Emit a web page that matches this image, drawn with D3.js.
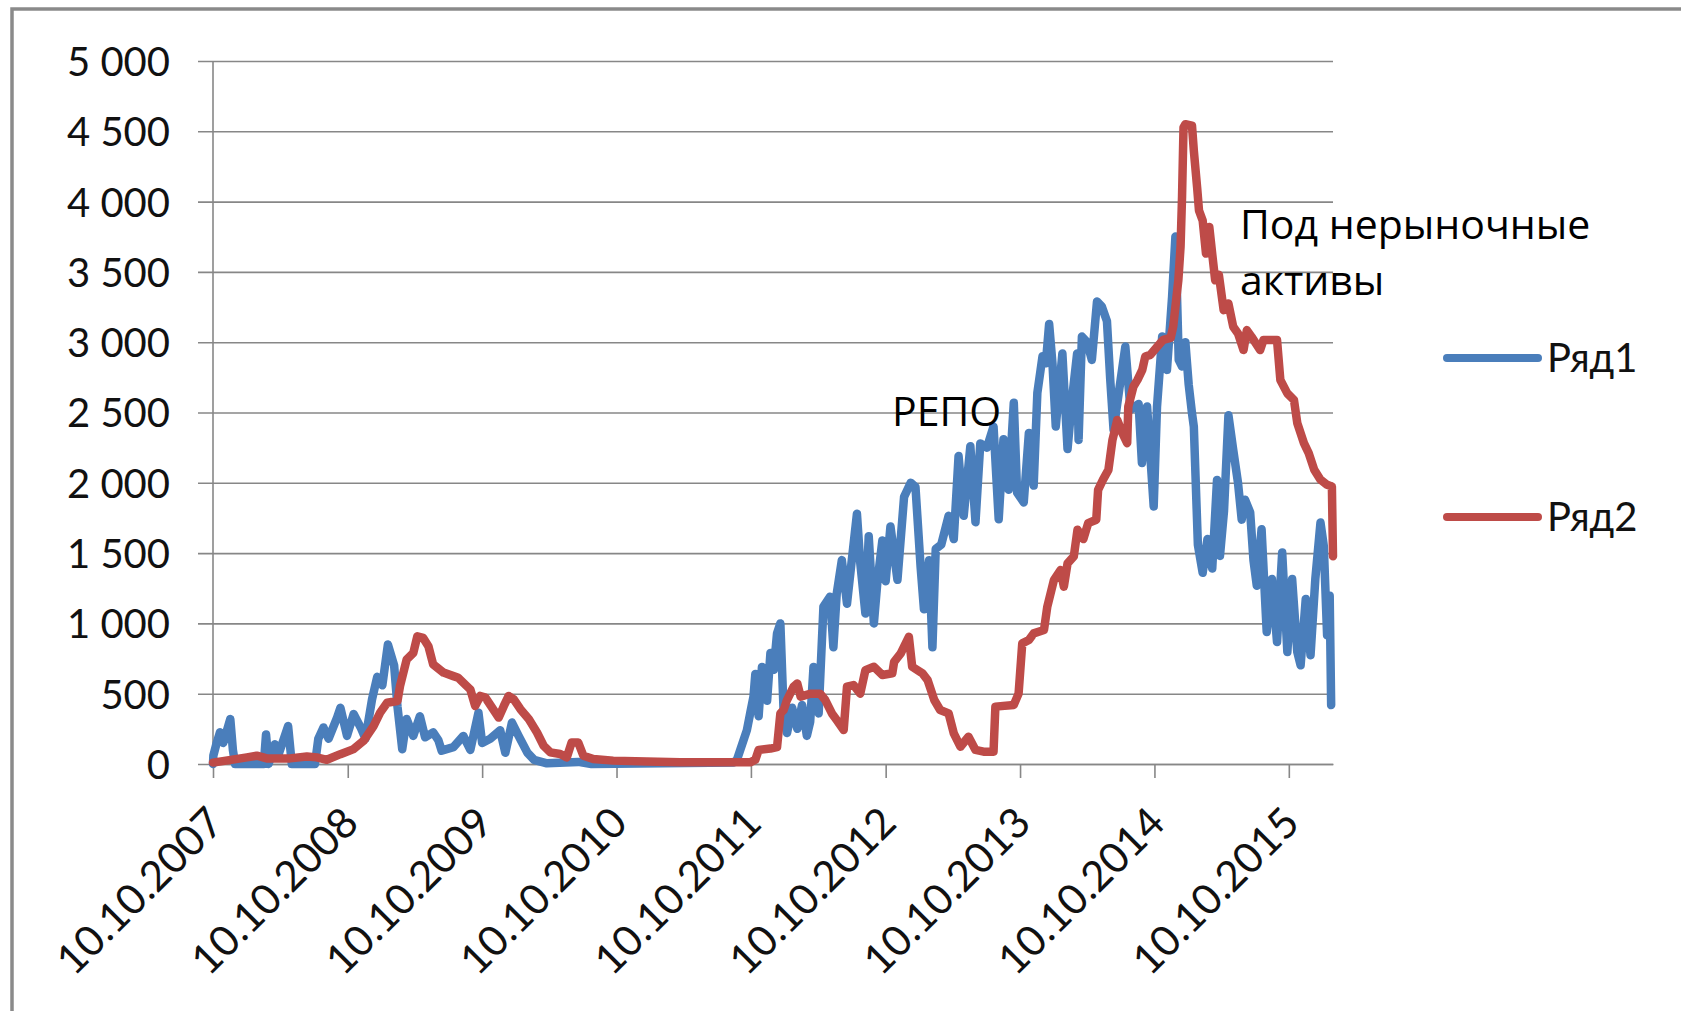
<!DOCTYPE html>
<html>
<head>
<meta charset="utf-8">
<script src="https://cdn.jsdelivr.net/npm/d3@7"></script>
<style>
  body { margin: 0; background: #fff; }
  .tickText { font-family: Lato, "Open Sans", sans-serif; font-size: 40px; fill: #111; }
  .xText { font-size: 42px; }
  .note { font-family: "Open Sans", sans-serif; font-size: 41px; fill: #000; }
</style>
</head>
<body>
<div id="chart"></div>
<script>
// Ряд1 (blue) and Ряд2 (red)
var series1 = [
  ["2007-10-10", 0], ["2007-10-11", 60], ["2007-10-20", 150], ["2007-10-29", 225], ["2007-11-07", 150],
  ["2007-11-26", 320], ["2007-12-03", 100], ["2007-12-09", 0], ["2008-02-25", 0], ["2008-03-02", 210],
  ["2008-03-09", 0], ["2008-03-26", 140], ["2008-04-04", 60], ["2008-05-01", 270], ["2008-05-11", 0],
  ["2008-07-13", 0], ["2008-07-22", 180], ["2008-08-05", 260], ["2008-08-19", 180], ["2008-09-11", 330],
  ["2008-09-20", 400], ["2008-10-08", 200], ["2008-10-26", 355], ["2008-11-14", 260], ["2008-11-27", 180],
  ["2008-12-15", 460], ["2008-12-29", 620], ["2009-01-12", 560], ["2009-01-27", 850], ["2009-02-13", 700],
  ["2009-02-22", 410], ["2009-03-07", 105], ["2009-03-19", 320], ["2009-04-06", 200], ["2009-04-24", 340],
  ["2009-05-08", 190], ["2009-05-30", 225], ["2009-06-13", 170], ["2009-06-22", 95], ["2009-07-24", 120],
  ["2009-08-20", 200], ["2009-09-08", 100], ["2009-09-30", 365], ["2009-10-10", 150], ["2009-11-01", 180],
  ["2009-11-28", 240], ["2009-12-12", 80], ["2009-12-30", 295], ["2010-01-17", 200], ["2010-02-10", 80],
  ["2010-02-28", 30], ["2010-04-04", 5], ["2010-06-28", 15], ["2010-08-03", 0], ["2011-08-24", 10],
  ["2011-09-02", 30], ["2011-09-20", 170], ["2011-09-29", 240], ["2011-10-08", 360], ["2011-10-17", 480],
  ["2011-10-22", 640], ["2011-10-31", 340], ["2011-11-09", 690], ["2011-11-23", 450], ["2011-12-02", 790],
  ["2011-12-11", 670], ["2011-12-20", 930], ["2011-12-29", 1000], ["2012-01-07", 360], ["2012-01-16", 220],
  ["2012-01-30", 400], ["2012-02-13", 250], ["2012-02-26", 420], ["2012-03-10", 200], ["2012-03-19", 300],
  ["2012-03-28", 690], ["2012-04-11", 360], ["2012-04-24", 1120], ["2012-05-12", 1190], ["2012-05-21", 830],
  ["2012-05-30", 1210], ["2012-06-13", 1450], ["2012-06-27", 1140], ["2012-07-10", 1450], ["2012-07-24", 1780],
  ["2012-08-02", 1430], ["2012-08-16", 1070], ["2012-08-25", 1620], ["2012-09-08", 1000], ["2012-09-17", 1280],
  ["2012-10-01", 1590], ["2012-10-10", 1300], ["2012-10-23", 1690], ["2012-11-11", 1310], ["2012-11-29", 1900],
  ["2012-12-17", 2000], ["2012-12-30", 1970], ["2013-01-13", 1400], ["2013-01-22", 1100], ["2013-02-05", 1450],
  ["2013-02-14", 830], ["2013-02-23", 1530], ["2013-03-10", 1560], ["2013-03-30", 1765], ["2013-04-13", 1600],
  ["2013-04-26", 2190], ["2013-05-10", 1765], ["2013-05-28", 2260], ["2013-06-11", 1720], ["2013-06-24", 2280],
  ["2013-07-12", 2250], ["2013-07-30", 2400], ["2013-08-13", 1740], ["2013-08-26", 2310], ["2013-09-09", 1950],
  ["2013-09-23", 2570], ["2013-10-02", 1930], ["2013-10-20", 1860], ["2013-11-03", 2355], ["2013-11-16", 1980],
  ["2013-11-26", 2640], ["2013-12-10", 2900], ["2013-12-19", 2850], ["2013-12-28", 3130], ["2014-01-06", 2850],
  ["2014-01-15", 2400], ["2014-02-02", 2920], ["2014-02-16", 2240], ["2014-03-01", 2615], ["2014-03-14", 2920],
  ["2014-03-18", 2305], ["2014-03-27", 3040], ["2014-04-10", 3000], ["2014-04-23", 2874], ["2014-05-07", 3289],
  ["2014-05-20", 3254], ["2014-06-03", 3150], ["2014-06-12", 2732], ["2014-06-21", 2376], ["2014-07-05", 2637],
  ["2014-07-23", 2969], ["2014-08-06", 2519], ["2014-08-28", 2560], ["2014-09-06", 2140], ["2014-09-20", 2542],
  ["2014-10-08", 1831], ["2014-10-17", 2542], ["2014-10-31", 3040], ["2014-11-13", 2803], ["2014-11-27", 3325],
  ["2014-12-06", 3751], ["2014-12-15", 2874], ["2014-12-24", 2827], ["2015-01-02", 3000], ["2015-01-11", 2700],
  ["2015-01-20", 2495], ["2015-01-25", 2400], ["2015-02-05", 1560], ["2015-02-18", 1360], ["2015-03-03", 1600],
  ["2015-03-16", 1390], ["2015-03-29", 2020], ["2015-04-06", 1480], ["2015-04-17", 1800], ["2015-04-29", 2480],
  ["2015-05-12", 2234], ["2015-05-25", 2000], ["2015-06-04", 1738], ["2015-06-13", 1880], ["2015-06-27", 1790],
  ["2015-07-06", 1450], ["2015-07-15", 1268], ["2015-07-28", 1670], ["2015-08-11", 938], ["2015-08-25", 1316],
  ["2015-09-08", 867], ["2015-09-22", 1504], ["2015-10-06", 796], ["2015-10-19", 1316], ["2015-11-02", 796],
  ["2015-11-11", 702], ["2015-11-25", 1174], ["2015-12-08", 773], ["2015-12-21", 1316], ["2016-01-04", 1717],
  ["2016-01-13", 1550], ["2016-01-22", 914], ["2016-01-29", 1197], ["2016-02-02", 419]
];

var series2 = [
  ["2007-10-10", 10], ["2008-01-10", 47], ["2008-02-06", 59], ["2008-03-04", 40], ["2008-05-06", 40],
  ["2008-06-21", 54], ["2008-07-18", 47], ["2008-08-14", 30], ["2008-09-20", 70], ["2008-10-26", 106],
  ["2008-11-22", 165], ["2008-12-19", 270], ["2009-01-06", 365], ["2009-01-25", 436], ["2009-02-22", 448],
  ["2009-03-01", 555], ["2009-03-19", 743], ["2009-04-06", 790], ["2009-04-17", 908], ["2009-05-03", 897],
  ["2009-05-17", 838], ["2009-05-30", 708], ["2009-06-27", 650], ["2009-07-24", 625], ["2009-08-06", 613],
  ["2009-08-29", 555], ["2009-09-08", 530], ["2009-09-21", 413], ["2009-10-05", 484], ["2009-10-19", 472],
  ["2009-11-06", 401], ["2009-11-24", 330], ["2009-12-08", 413], ["2009-12-21", 484], ["2010-01-04", 460],
  ["2010-01-22", 390], ["2010-02-14", 318], ["2010-03-08", 224], ["2010-03-26", 130], ["2010-04-13", 83],
  ["2010-05-10", 71], ["2010-05-28", 47], ["2010-06-10", 153], ["2010-06-28", 153], ["2010-07-12", 59],
  ["2010-08-08", 35], ["2010-10-01", 24], ["2010-12-31", 17], ["2011-04-01", 12], ["2011-10-08", 12],
  ["2011-10-22", 30], ["2011-10-31", 100], ["2011-12-02", 110], ["2011-12-20", 120], ["2011-12-29", 360],
  ["2012-01-07", 384], ["2012-01-16", 455], ["2012-02-03", 550], ["2012-02-13", 573], ["2012-02-22", 479],
  ["2012-03-19", 500], ["2012-04-15", 500], ["2012-04-29", 455], ["2012-05-17", 360], ["2012-05-30", 313],
  ["2012-06-18", 242], ["2012-06-27", 550], ["2012-07-15", 561], ["2012-08-02", 500], ["2012-08-16", 668],
  ["2012-09-08", 692], ["2012-10-01", 633], ["2012-10-28", 645], ["2012-11-02", 727], ["2012-11-20", 787],
  ["2012-12-12", 905], ["2012-12-21", 692], ["2013-01-18", 645], ["2013-02-01", 597], ["2013-02-19", 455],
  ["2013-03-07", 384], ["2013-03-30", 360], ["2013-04-13", 218], ["2013-05-01", 123], ["2013-05-23", 194],
  ["2013-06-11", 100], ["2013-07-03", 88], ["2013-07-30", 88], ["2013-08-04", 408], ["2013-09-23", 420],
  ["2013-10-06", 500], ["2013-10-16", 858], ["2013-11-03", 882], ["2013-11-16", 929], ["2013-12-14", 953],
  ["2013-12-23", 1119], ["2014-01-10", 1308], ["2014-01-28", 1380], ["2014-02-06", 1261], ["2014-02-16", 1427],
  ["2014-03-05", 1476], ["2014-03-15", 1666], ["2014-03-31", 1600], ["2014-04-13", 1713], ["2014-05-05", 1737],
  ["2014-05-10", 1950], ["2014-05-23", 2021], ["2014-06-07", 2092], ["2014-06-18", 2305], ["2014-07-01", 2447],
  ["2014-07-15", 2353], ["2014-07-28", 2282], ["2014-07-31", 2542], ["2014-08-14", 2685], ["2014-08-25", 2732],
  ["2014-09-07", 2803], ["2014-09-15", 2898], ["2014-09-29", 2910], ["2014-10-18", 2969], ["2014-11-03", 3017],
  ["2014-11-23", 3030], ["2014-11-30", 3111], ["2014-12-14", 3443], ["2014-12-20", 3680], ["2014-12-24", 4035],
  ["2014-12-28", 4528], ["2015-01-02", 4550], ["2015-01-20", 4540], ["2015-01-25", 4363], ["2015-02-03", 4100],
  ["2015-02-08", 3937], ["2015-02-18", 3866], ["2015-02-27", 3630], ["2015-03-08", 3819], ["2015-03-15", 3650],
  ["2015-03-24", 3440], ["2015-04-03", 3480], ["2015-04-16", 3228], ["2015-04-29", 3275], ["2015-05-12", 3110],
  ["2015-05-25", 3062], ["2015-06-09", 2944], ["2015-06-18", 3086], ["2015-07-01", 3038], ["2015-07-24", 2944],
  ["2015-08-02", 3015], ["2015-09-08", 3015], ["2015-09-17", 2731], ["2015-10-06", 2636], ["2015-10-24", 2589],
  ["2015-11-02", 2424], ["2015-11-20", 2282], ["2015-12-03", 2211], ["2015-12-18", 2093], ["2016-01-04", 2022],
  ["2016-01-22", 1986], ["2016-02-04", 1974], ["2016-02-07", 1478]
];

var xTickDates = ["2007-10-10", "2008-10-10", "2009-10-10", "2010-10-10", "2011-10-10",
                  "2012-10-10", "2013-10-10", "2014-10-10", "2015-10-10"];
var yTicks = [0, 500, 1000, 1500, 2000, 2500, 3000, 3500, 4000, 4500, 5000];
var seriesNames = ["Ряд1", "Ряд2"];
var seriesColors = ["#4a7ebb", "#be4b48"];

var width = 1681;
var height = 1011;
var plotLeft = 213, plotRight = 1333, plotTop = 61, plotBottom = 764;

var parse = d3.timeParse("%Y-%m-%d");

var svg = d3.select("#chart").append("svg")
  .attr("width", width)
  .attr("height", height);

svg.append("rect").attr("width", width).attr("height", height).attr("fill", "#fff");

// outer chart frame (runs off the right and bottom edge)
svg.append("rect")
  .attr("x", 12).attr("y", 9)
  .attr("width", 1760).attr("height", 1100)
  .attr("fill", "none")
  .attr("stroke", "#8a8a8a")
  .attr("stroke-width", 3.5);

var xScale = d3.scaleTime()
  .domain([parse("2007-10-10"), parse("2016-02-07")])
  .range([plotLeft, plotRight]);
var yScale = d3.scaleLinear()
  .domain([0, 5000])
  .range([plotBottom, plotTop]);

var fmt = function(v) { return d3.format(",")(v).replace(/,/g, " "); };

// y axis with gridlines
var yAxis = d3.axisLeft(yScale)
  .tickValues(yTicks)
  .tickSize(-(plotRight - plotLeft))
  .tickFormat(fmt);

var gy = svg.append("g")
  .attr("transform", "translate(" + plotLeft + ",0)")
  .call(yAxis);
gy.attr("font-size", null).attr("font-family", null);
gy.select(".domain").remove();
gy.selectAll(".tick line")
  .attr("x1", -15)
  .attr("stroke", "#878787")
  .attr("stroke-width", 1.6);
gy.selectAll(".tick text")
  .attr("class", "tickText")
  .attr("x", -43)
  .attr("dy", "0.36em");

svg.append("line")
  .attr("x1", plotLeft).attr("x2", plotLeft)
  .attr("y1", plotTop).attr("y2", plotBottom)
  .attr("stroke", "#878787")
  .attr("stroke-width", 1.6);

// x axis
var xAxis = d3.axisBottom(xScale)
  .tickValues(xTickDates.map(parse))
  .tickSizeInner(14)
  .tickSizeOuter(0)
  .tickFormat(d3.timeFormat("%d.%m.%Y"));

var gx = svg.append("g")
  .attr("transform", "translate(0," + plotBottom + ")")
  .call(xAxis);
gx.attr("font-size", null).attr("font-family", null);
gx.select(".domain").attr("stroke", "#878787").attr("stroke-width", 1.6);
gx.selectAll(".tick line").attr("stroke", "#878787").attr("stroke-width", 1.6);
gx.selectAll(".tick text")
  .attr("class", "tickText xText")
  .attr("y", 0)
  .attr("dy", "0.72em")
  .attr("text-anchor", "end")
  .attr("transform", "translate(-9,40) rotate(-45)");

// series lines
var line = d3.line()
  .x(function(d) { return xScale(parse(d[0])); })
  .y(function(d) { return yScale(d[1]); });

[series1, series2].forEach(function(s, i) {
  svg.append("path")
    .datum(s)
    .attr("d", line)
    .attr("fill", "none")
    .attr("stroke", seriesColors[i])
    .attr("stroke-width", 8.5)
    .attr("stroke-linejoin", "round")
    .attr("stroke-linecap", "round");
});

// legend
var legendY = [358, 517];
seriesNames.forEach(function(name, i) {
  svg.append("line")
    .attr("x1", 1447).attr("x2", 1538)
    .attr("y1", legendY[i]).attr("y2", legendY[i])
    .attr("stroke", seriesColors[i])
    .attr("stroke-width", 8)
    .attr("stroke-linecap", "round");
  svg.append("text")
    .attr("class", "tickText")
    .attr("x", 1547)
    .attr("y", legendY[i] + 14)
    .text(name);
});

// annotations
svg.append("text").attr("class", "note").attr("x", 892).attr("y", 426).text("РЕПО");
svg.append("text").attr("class", "note").attr("x", 1240).attr("y", 239).text("Под нерыночные");
svg.append("text").attr("class", "note").attr("x", 1240).attr("y", 295).text("активы");
</script>
</body>
</html>
